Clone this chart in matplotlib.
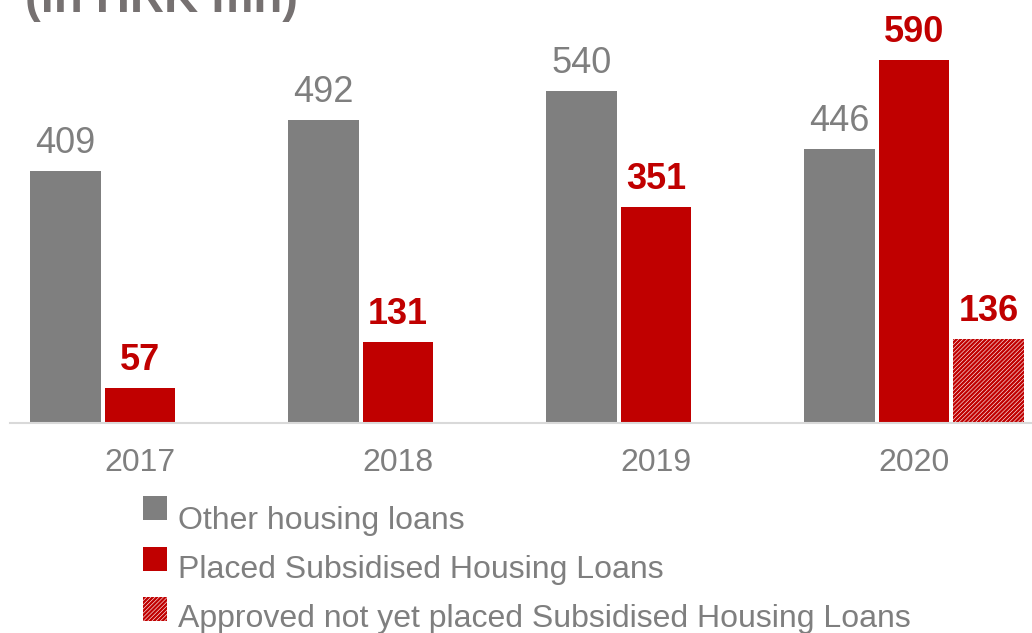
import matplotlib
matplotlib.use("Agg")
import matplotlib.pyplot as plt
from matplotlib.patches import Rectangle

plt.rcParams['font.family'] = ['Liberation Sans', 'DejaVu Sans']
plt.rcParams['hatch.linewidth'] = 1.7

years = ['2017', '2018', '2019', '2020']
other_loans = [409, 492, 540, 446]
placed_subsidised = [57, 131, 351, 590]
approved_years = ['2020']
approved_not_placed = [136]

series_labels = [
    'Other housing loans',
    'Placed Subsidised Housing Loans',
    'Approved not yet placed Subsidised Housing Loans',
]

GREY = '#7F7F7F'
RED = '#C00000'
TEXT_GREY = '#7F7F7F'
HATCH = '////////'

W, H = 1032, 633
fig = plt.figure(figsize=(W / 100, H / 100), dpi=100)
ax = fig.add_axes([10 / W, (H - 423) / H, 1022 / W, 423 / H])

x = list(range(len(years)))
width = 0.275
step = 0.289

b_other = ax.bar([i - step for i in x], other_loans, width, color=GREY, linewidth=0)
b_placed = ax.bar(x, placed_subsidised, width, color=RED, linewidth=0)
x_appr = [years.index(y) + step for y in approved_years]
b_appr = ax.bar(x_appr, approved_not_placed, width, color='white',
                edgecolor=RED, hatch=HATCH, linewidth=0)

for bars, vals, col, wt in [(b_other, other_loans, TEXT_GREY, 'normal'),
                            (b_placed, placed_subsidised, RED, 'bold'),
                            (b_appr, approved_not_placed, RED, 'bold')]:
    for rect, v in zip(bars, vals):
        ax.annotate(f'{v}', (rect.get_x() + rect.get_width() / 2, v),
                    xytext=(0, 13), textcoords='offset points',
                    ha='center', va='baseline', fontsize=26,
                    color=col, fontweight=wt)

ax.set_xlim(-130 / 258, 892 / 258)
ax.set_ylim(0, 423 / 0.6153)
ax.set_xticks(x)
ax.set_xticklabels(years)
ax.tick_params(axis='x', length=0, pad=18, labelsize=23, labelcolor=TEXT_GREY)
ax.set_yticks([])
for s in ['top', 'left', 'right']:
    ax.spines[s].set_visible(False)
ax.spines['bottom'].set_color('#D9D9D9')
ax.spines['bottom'].set_linewidth(1.5)
ax.patch.set_alpha(0)

fig.text(25 / W, 1 - 12 / H, '(in HRK mn)', fontsize=34, fontweight='bold',
         color='#767171', ha='left', va='baseline')

# legend drawn in figure pixels
patch_tops = [496, 546.5, 597]
text_base = [529, 578, 627]
styles = [dict(facecolor=GREY, linewidth=0),
          dict(facecolor=RED, linewidth=0),
          dict(facecolor='white', edgecolor=RED, hatch=HATCH, linewidth=0)]
for top, base, lab, st in zip(patch_tops, text_base, series_labels, styles):
    fig.add_artist(Rectangle((143 / W, (H - top - 24) / H), 24 / W, 24 / H,
                             transform=fig.transFigure, **st))
    fig.text(178 / W, (H - base) / H, lab, fontsize=23, color=TEXT_GREY,
             ha='left', va='baseline')

fig.savefig('out.png', dpi=100)
